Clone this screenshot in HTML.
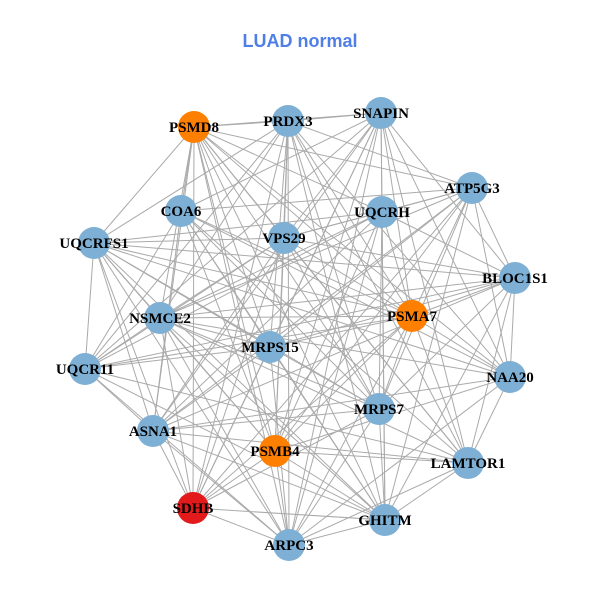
<!DOCTYPE html>
<html><head><meta charset="utf-8"><style>
html,body{margin:0;padding:0;background:#fff;width:600px;height:600px;overflow:hidden}
</style></head><body>
<svg id="g" width="600" height="600" xmlns="http://www.w3.org/2000/svg">
<rect width="600" height="600" fill="#fff"/>
<text x="300" y="47" text-anchor="middle" font-family="Liberation Sans, sans-serif" font-weight="bold" font-size="18" fill="#4f7fe6">LUAD normal</text>
<g id="edges" stroke="#aaaaaa" stroke-width="1"></g>
<g id="nodes"></g>
<g id="labels" font-family="Liberation Serif, serif" font-weight="bold" font-size="15" fill="#000" text-anchor="middle"></g>
</svg>
<script>
var N=[["PSMD8",194,127,"#ff7f00"],["PRDX3",288,121],["SNAPIN",381,113],["ATP5G3",472,188],["COA6",181,211],["UQCRH",382,212],["VPS29",284,238],["UQCRFS1",94,243],["BLOC1S1",515,278],["NSMCE2",160,318],["PSMA7",412,316,"#ff7f00"],["MRPS15",270,347],["UQCR11",85,369],["NAA20",510,377],["MRPS7",379,409],["ASNA1",153,431],["PSMB4",275,451,"#ff7f00"],["LAMTOR1",468,463],["SDHB",193,508,"#e31a1c"],["GHITM",385,520],["ARPC3",289,545]];
var ns="http://www.w3.org/2000/svg",E=document.getElementById("edges"),ND=document.getElementById("nodes"),L=document.getElementById("labels");
var s=7;function r(){s=(s*9301+49297)%233280;return s/233280;}
for(var i=0;i<N.length;i++)for(var j=i+1;j<N.length;j++){
 if(r()<0.72){var l=document.createElementNS(ns,"line");l.setAttribute("x1",N[i][1]);l.setAttribute("y1",N[i][2]);l.setAttribute("x2",N[j][1]);l.setAttribute("y2",N[j][2]);E.appendChild(l);}
}
N.forEach(function(n){var c=document.createElementNS(ns,"circle");c.setAttribute("cx",n[1]);c.setAttribute("cy",n[2]);c.setAttribute("r",16);c.setAttribute("fill",n[3]||"#7eb0d5");ND.appendChild(c);
var t=document.createElementNS(ns,"text");t.setAttribute("x",n[1]);t.setAttribute("y",n[2]+5);t.textContent=n[0];L.appendChild(t);});
</script>
</body></html>
